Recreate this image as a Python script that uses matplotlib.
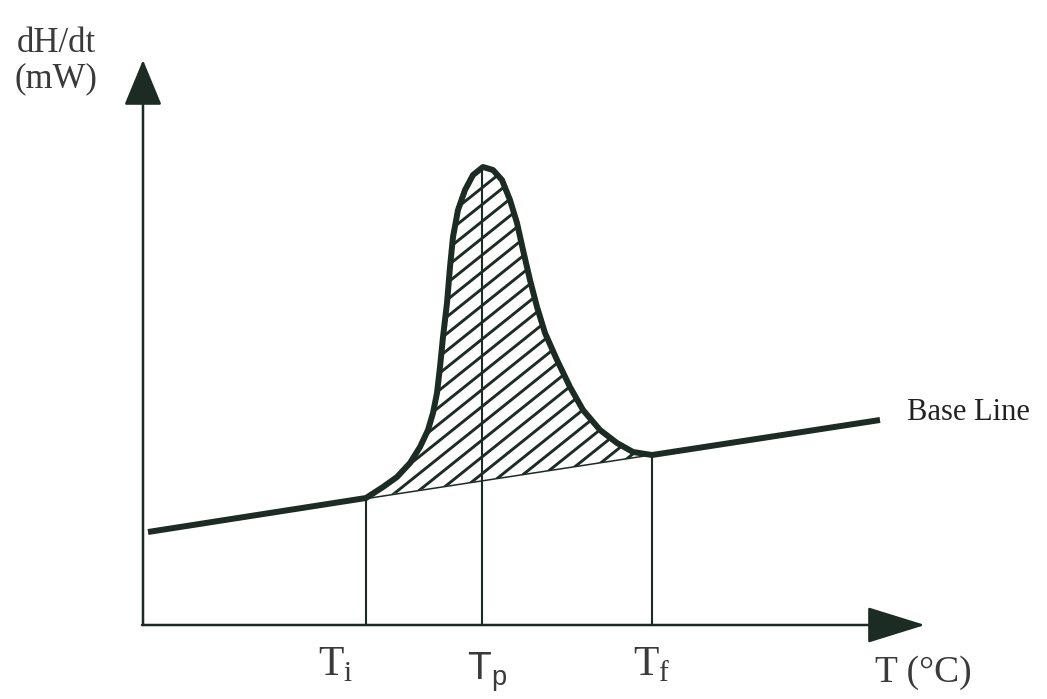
import numpy as np
import matplotlib
matplotlib.use("Agg")
import matplotlib.pyplot as plt

plt.rcParams['font.family'] = ['Liberation Serif', 'DejaVu Serif']
plt.rcParams['mathtext.fontset'] = 'custom'
plt.rcParams['mathtext.rm'] = 'Liberation Serif'
plt.rcParams['mathtext.sf'] = 'Liberation Sans'

# ---- data (x = temperature axis, y = heat flow, arbitrary units)
baseline_x = [7, 739]
baseline_y = [93, 205]

peak_x = [225, 242, 256, 269, 279, 287, 292, 296, 299, 302, 306, 309, 312,
          317, 324, 332, 342, 352, 361, 369, 376, 382, 389, 396, 404, 416,
          429, 442, 459, 476, 492, 511]
peak_y = [127, 138, 148, 162, 178, 195, 212, 232, 258, 288, 322, 358, 388,
          415, 435, 450, 458, 455, 445, 425, 402, 375, 345, 318, 292, 265,
          238, 215, 195, 182, 173, 170]

T_i, T_p, T_f = 225, 341, 511
marker_tops = [127, 458, 170]

y_label_lines = ["dH/dt", "(mW)"]
x_label = "T (°C)"
base_label = "Base Line"
temp_labels = [r"$\mathrm{T}_{\mathrm{i}}$", r"$\mathsf{T}_{\mathsf{p}}$", r"$\mathrm{T}_{\mathrm{f}}$"]

INK = '#1d2b25'

fig = plt.figure(figsize=(10.47, 6.99), dpi=100)
ax = fig.add_axes([0, 0, 1, 1])
ax.set_xlim(-141, 906)
ax.set_ylim(-74, 625)
ax.axis('off')

# axes with arrows
ax.annotate('', xy=(2, 565), xytext=(2, 0),
            arrowprops=dict(arrowstyle='-|>,head_length=2.9,head_width=1.2',
                            mutation_scale=10, lw=1.8, color=INK,
                            shrinkA=0, shrinkB=0))
ax.annotate('', xy=(784, 0), xytext=(1, 0),
            arrowprops=dict(arrowstyle='-|>,head_length=3.7,head_width=1.15',
                            mutation_scale=10, lw=1.8, color=INK,
                            shrinkA=0, shrinkB=0))

# hatched area under the peak
poly = ax.fill(peak_x, peak_y, facecolor='white', edgecolor='none', zorder=1)[0]
slope = (baseline_y[1] - baseline_y[0]) / (baseline_x[1] - baseline_x[0])
hatch_slope = 0.8
for x0 in np.arange(252 - 26 * 14, 560, 26):
    y0 = baseline_y[0] + slope * (x0 - baseline_x[0])
    xx = np.array([x0 - 50, x0 + 700])
    yy = y0 + hatch_slope * (xx - x0)
    ln, = ax.plot(xx, yy, color=INK, lw=2.1, zorder=2, solid_capstyle='butt')
    ln.set_clip_path(poly)

# thin interpolated baseline under the peak
ax.plot([T_i, T_f],
        [baseline_y[0] + slope * (T_i - baseline_x[0]),
         baseline_y[0] + slope * (T_f - baseline_x[0])],
        color=INK, lw=1.1, zorder=3)

# vertical markers
for t, top in zip([T_i, T_p, T_f], marker_tops):
    ax.plot([t, t], [0, top], color=INK, lw=1.5, zorder=3)

# thick curve: baseline + peak + baseline
curve_x = [baseline_x[0]] + peak_x + [baseline_x[1]]
curve_y = [baseline_y[0]] + peak_y + [baseline_y[1]]
ax.plot(curve_x, curve_y, color=INK, lw=4.3, zorder=4,
        solid_capstyle='butt', solid_joinstyle='round')

# texts
ax.text(-124, 573, y_label_lines[0], fontsize=25, color='#3a3a3a', va='baseline', ha='left')
ax.text(-126, 538, y_label_lines[1], fontsize=25, color='#3a3a3a', va='baseline', ha='left')
ax.text(766, 205, base_label, fontsize=22, color='#222222', va='baseline', ha='left')
ax.text(734, -57, x_label, fontsize=27, color='#3a3a3a', va='baseline', ha='left')
ax.text(177, -50, temp_labels[0], fontsize=30, color='#3a3a3a', va='baseline', ha='left')
ax.text(326, -55, temp_labels[1], fontsize=28, color='#3a3a3a', va='baseline', ha='left')
ax.text(492, -50, temp_labels[2], fontsize=30, color='#3a3a3a', va='baseline', ha='left')

fig.savefig('out.png', dpi=100, facecolor='white')
